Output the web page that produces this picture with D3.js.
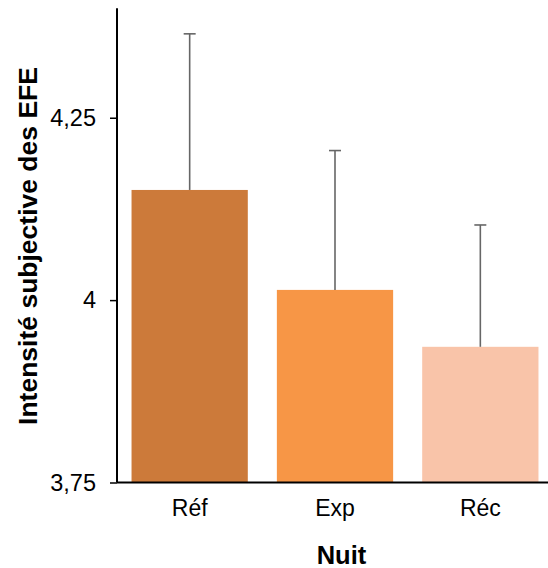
<!DOCTYPE html>
<html><head><meta charset="utf-8">
<script src="https://cdn.jsdelivr.net/npm/d3@7"></script>
<style>html,body{margin:0;padding:0;background:#fff}</style>
</head><body><svg id="c" width="548" height="568"></svg>
<script>
const categories = ["Réf", "Exp", "Réc"];
const means = [4.151, 4.014, 3.936];
const errTops = [4.365, 4.205, 4.103];
const colors = ["#CC7A3A", "#F79646", "#F9C4A9"];
const yTicks = [3.75, 4, 4.25];
const yTickLabels = ["3,75", "4", "4,25"];

const svg = d3.select("#c");
const font = "Liberation Sans, Arial, sans-serif";
const x = d3.scaleBand().domain(categories).range([117, 553]).paddingInner(0.2).paddingOuter(0.1);
const y = d3.scaleLinear().domain([3.75, 4.4]).range([482.5, 8.3]);

svg.selectAll("rect.bar").data(categories).enter().append("rect")
  .attr("x", d => x(d)).attr("width", x.bandwidth())
  .attr("y", (d,i) => y(means[i])).attr("height", (d,i) => y(3.75) - y(means[i]))
  .attr("fill", (d,i) => colors[i]);

const eb = svg.append("g").attr("stroke", "#666").attr("stroke-width", 1.6);
categories.forEach((c,i) => {
  const cx = x(c) + x.bandwidth()/2;
  eb.append("line").attr("x1", cx).attr("x2", cx).attr("y1", y(means[i])).attr("y2", y(errTops[i]));
  eb.append("line").attr("x1", cx-6).attr("x2", cx+6).attr("y1", y(errTops[i])).attr("y2", y(errTops[i]));
});

const yAxis = d3.axisLeft(y).tickValues(yTicks).tickFormat((d,i) => yTickLabels[i]).tickSize(7).tickPadding(14);
const gy = svg.append("g").attr("transform", "translate(117,0)").call(yAxis);
gy.attr("font-size", null).attr("font-family", null);
gy.select(".domain").remove();
gy.append("line").attr("x1",0).attr("x2",0).attr("y1", y(4.4)).attr("y2", y(3.75)).attr("stroke","#000").attr("stroke-width",2);
gy.selectAll(".tick line").attr("stroke","#000").attr("stroke-width",1.5);
gy.selectAll("text").style("font-family", font).style("font-size", "23.5px").attr("fill","#000");

const xAxis = d3.axisBottom(x).tickSize(0).tickPadding(17);
const gx = svg.append("g").attr("transform", "translate(0,482.5)").call(xAxis);
gx.attr("font-size", null).attr("font-family", null);
gx.select(".domain").remove();
gx.append("line").attr("x1",117).attr("x2",548).attr("y1",0).attr("y2",0).attr("stroke","#000").attr("stroke-width",2);
gx.selectAll("text").style("font-family", font).style("font-size", "23px").attr("fill","#000");

svg.append("text").attr("x", 341.5).attr("y", 564).attr("text-anchor","middle")
  .style("font-family", font).style("font-size", "25.5px").attr("font-weight","bold").text("Nuit");
svg.append("text").attr("transform","translate(37,246) rotate(-90)").attr("text-anchor","middle")
  .style("font-family", font).style("font-size", "26.5px").attr("font-weight","bold").text("Intensité subjective des EFE");
</script></body></html>
